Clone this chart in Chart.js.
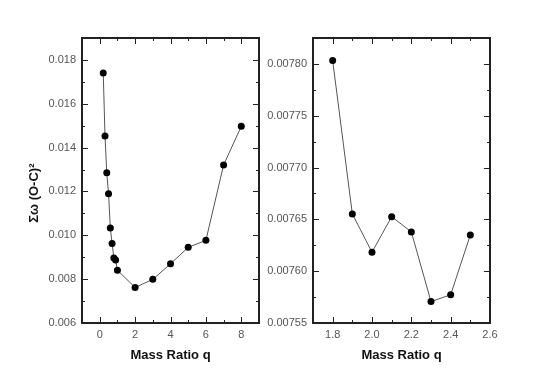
<!DOCTYPE html>
<html lang="en">
<head>
  <meta charset="UTF-8">
  <title>Mass Ratio q search</title>
  <script src="https://cdn.jsdelivr.net/npm/chart.js"></script>
  <style>
    body { margin: 0; background: #fff; }
    .wrap { position: relative; width: 545px; height: 380px; }
    canvas { position: absolute; top: 0; }
    #leftChart { left: 0; }
    #rightChart { left: 262px; }
  </style>
</head>
<body>
  <div class="wrap">
    <canvas id="leftChart" width="265" height="380"></canvas>
    <canvas id="rightChart" width="283" height="380"></canvas>
  </div>

  <script>
    // Left panel: wide q search
    const leftQ = [0.2, 0.3, 0.4, 0.5, 0.6, 0.7, 0.8, 0.9, 1, 2, 3, 4, 5, 6, 7, 8];
    const leftRes = [0.01740, 0.01453, 0.01285, 0.01190, 0.01033, 0.00963, 0.00897, 0.00887,
                     0.00841, 0.00762, 0.00799, 0.00870, 0.00945, 0.00977, 0.01321, 0.01497];
    const leftXTicks = [0, 2, 4, 6, 8];
    const leftYTicks = [0.006, 0.008, 0.010, 0.012, 0.014, 0.016, 0.018];

    // Right panel: fine q search
    const rightQ = [1.8, 1.9, 2.0, 2.1, 2.2, 2.3, 2.4, 2.5];
    const rightRes = [0.0078033, 0.0076552, 0.0076183, 0.0076526, 0.0076379, 0.0075707, 0.0075772, 0.0076350];
    const rightXTicks = [1.8, 2.0, 2.2, 2.4, 2.6];
    const rightYTicks = [0.00755, 0.00760, 0.00765, 0.00770, 0.00775, 0.00780];

    const FONT = "'Liberation Sans', Arial, sans-serif";

    // box round the plot with inward major/minor ticks on all four sides
    const frameTicks = {
      id: 'frameTicks',
      afterDraw(chart) {
        const { ctx, chartArea: a, scales: { x, y } } = chart;
        const mids = arr => arr.slice(1).map((v, i) => (v + arr[i]) / 2);
        const xMaj = x.ticks.map(t => t.value);
        const yMaj = y.ticks.map(t => t.value);
        ctx.save();
        ctx.strokeStyle = '#222';
        ctx.lineWidth = 1;
        const xMarks = (vals, len) => vals.forEach(v => {
          const p = Math.round(x.getPixelForValue(v)) + 0.5;
          ctx.beginPath();
          ctx.moveTo(p, a.bottom); ctx.lineTo(p, a.bottom - len);
          ctx.moveTo(p, a.top); ctx.lineTo(p, a.top + len);
          ctx.stroke();
        });
        const yMarks = (vals, len) => vals.forEach(v => {
          const p = Math.round(y.getPixelForValue(v)) + 0.5;
          ctx.beginPath();
          ctx.moveTo(a.left, p); ctx.lineTo(a.left + len, p);
          ctx.moveTo(a.right, p); ctx.lineTo(a.right - len, p);
          ctx.stroke();
        });
        xMarks(xMaj, 6); xMarks(mids(xMaj), 3);
        yMarks(yMaj, 6); yMarks(mids(yMaj), 3);
        ctx.lineWidth = 2;
        ctx.strokeRect(a.left, a.top, a.width, a.height);
        ctx.restore();
      }
    };

    function makePanel(id, xs, ys, opt) {
      new Chart(document.getElementById(id), {
        type: 'scatter',
        data: {
          datasets: [{
            data: xs.map((q, i) => ({ x: q, y: ys[i] })),
            showLine: true,
            borderColor: '#555',
            borderWidth: 1,
            pointRadius: 3.5,
            pointBackgroundColor: '#000',
            pointBorderColor: '#000',
            pointBorderWidth: 0
          }]
        },
        options: {
          responsive: false,
          animation: false,
          layout: { padding: { top: 38, right: opt.padRight, left: 0, bottom: 0 } },
          plugins: { legend: { display: false }, tooltip: { enabled: false } },
          scales: {
            x: {
              type: 'linear',
              min: opt.xMin, max: opt.xMax,
              afterBuildTicks: s => { s.ticks = opt.xTicks.map(v => ({ value: v })); },
              afterFit: s => { s.height = 57; },
              grid: { display: false, drawTicks: false },
              border: { display: false },
              ticks: {
                autoSkip: false, maxRotation: 0, padding: 5,
                color: '#555', font: { family: FONT, size: 11 },
                callback: v => v.toFixed(opt.xDec)
              },
              title: {
                display: true, text: 'Mass Ratio q', color: '#111',
                font: { family: FONT, size: 13, weight: 'bold' },
                padding: { top: 0, bottom: 17 }
              }
            },
            y: {
              min: opt.yMin, max: opt.yMax,
              afterBuildTicks: s => { s.ticks = opt.yTicks.map(v => ({ value: v })); },
              afterFit: s => { s.width = opt.yWidth; },
              grid: { display: false, drawTicks: false },
              border: { display: false },
              ticks: {
                autoSkip: false, padding: 6,
                color: '#555', font: { family: FONT, size: 11 },
                callback: v => v.toFixed(opt.yDec)
              },
              title: {
                display: !!opt.yTitle, text: opt.yTitle || '', color: '#111',
                font: { family: FONT, size: 13, weight: 'bold' },
                padding: { top: 27, bottom: 0 }
              }
            }
          }
        },
        plugins: [frameTicks]
      });
    }

    makePanel('leftChart', leftQ, leftRes, {
      xMin: -1, xMax: 9, yMin: 0.006, yMax: 0.019,
      xTicks: leftXTicks, yTicks: leftYTicks, xDec: 0, yDec: 3,
      yWidth: 82, padRight: 6,
      // trailing spaces nudge the centred title down, as in the original
      yTitle: 'Σω (O-C)²       '
    });

    makePanel('rightChart', rightQ, rightRes, {
      xMin: 1.7, xMax: 2.6, yMin: 0.00755, yMax: 0.007825,
      xTicks: rightXTicks, yTicks: rightYTicks, xDec: 1, yDec: 5,
      yWidth: 51, padRight: 55
    });
  </script>
</body>
</html>
